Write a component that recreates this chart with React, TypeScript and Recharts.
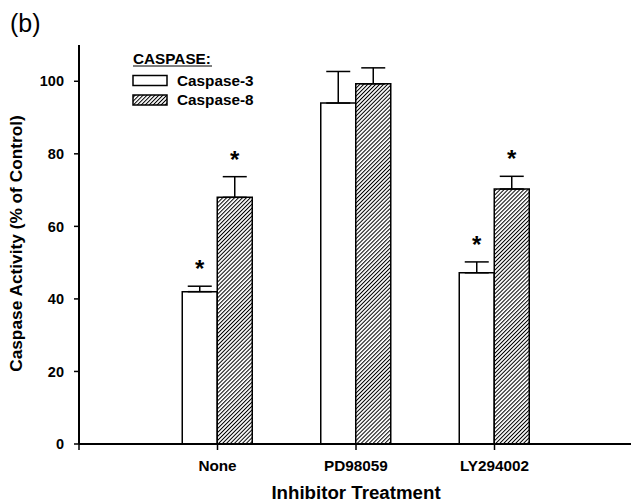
import { Bar, BarChart, ErrorBar, LabelList, Legend, XAxis, YAxis } from 'recharts'

const categories = ['None', 'PD98059', 'LY294002']
const caspase3 = [42, 94, 47.2]
const caspase3Err = [1.5, 8.7, 3]
const caspase3Sig = [true, false, true]
const caspase8 = [68, 99.3, 70.3]
const caspase8Err = [5.7, 4.4, 3.5]
const caspase8Sig = [true, false, true]
const yTicks = [0, 20, 40, 60, 80, 100]
const xTicks = [0, 1, 2, 3]

const FONT = "Arial, 'Liberation Sans', sans-serif"

const rows = categories.map((name, i) => ({
  x: i + 1,
  name,
  c3: caspase3[i],
  c3err: [0, caspase3Err[i]],
  c8: caspase8[i],
  c8err: [0, caspase8Err[i]],
}))

const starLabel = (errs: number[], sig: boolean[]) => (props: any) => {
  const vb = props.viewBox ?? props
  const { index, value } = props
  if (!sig[index]) return null
  const h = Math.abs(vb.height)
  const top = Math.min(vb.y, vb.y + vb.height)
  const pxPer = h / Number(value)
  const cy = top - errs[index] * pxPer - 22
  return (
    <text
      x={vb.x + vb.width / 2}
      y={cy + 13}
      textAnchor="middle"
      fontSize={24}
      fontWeight="bold"
      fontFamily={FONT}
      fill="#000"
    >
      *
    </text>
  )
}

function LegendBox() {
  return (
    <svg width={300} height={120} style={{ display: 'block' }}>
      <text x={10} y={32} fontSize={25} fontFamily={FONT} fill="#000">
        (b)
      </text>
      <text x={133} y={64} fontSize={15.3} fontWeight="bold" fontFamily={FONT} fill="#000">
        CASPASE:
      </text>
      <line x1={133} x2={212} y1={66} y2={66} stroke="#000" strokeWidth={1.2} />
      <rect x={133} y={75.5} width={34} height={10} fill="#fff" stroke="#000" strokeWidth={1.5} />
      <text x={177} y={85.5} fontSize={15.3} fontWeight="bold" fontFamily={FONT} fill="#000">
        Caspase-3
      </text>
      <rect x={133} y={95} width={34} height={10} fill="url(#hatch)" stroke="#000" strokeWidth={1.5} />
      <text x={177} y={105} fontSize={15.3} fontWeight="bold" fontFamily={FONT} fill="#000">
        Caspase-8
      </text>
    </svg>
  )
}

export default function App() {
  return (
    <div
      style={{
        position: 'fixed',
        left: 0,
        top: 0,
        width: 631,
        height: 502,
        overflow: 'hidden',
        background: '#fff',
        fontFamily: FONT,
      }}
    >
      <svg width={0} height={0} style={{ position: 'absolute' }}>
        <defs>
          <pattern id="hatch" width={2.8} height={2.8} patternUnits="userSpaceOnUse" patternTransform="rotate(45)">
            <rect width={2.8} height={2.8} fill="#fff" />
            <line x1={0.5} y1={0} x2={0.5} y2={2.8} stroke="#000" strokeWidth={1} />
          </pattern>
        </defs>
      </svg>
      <BarChart
        width={640}
        height={502}
        data={rows}
        margin={{ top: 45, right: 7, bottom: 0, left: 0 }}
        barGap={0}
      >
        <XAxis
          dataKey="x"
          type="number"
          domain={[0, 4]}
          ticks={xTicks}
          allowDataOverflow
          tickFormatter={(v) => categories[v - 1] ?? ''}
          height={58}
          tickSize={6}
          tickMargin={10}
          axisLine={{ stroke: '#000', strokeWidth: 2 }}
          tickLine={{ stroke: '#000', strokeWidth: 1.5 }}
          tick={{ fill: '#000', fontSize: 15.3, fontWeight: 'bold', fontFamily: FONT }}
          label={{
            value: 'Inhibitor Treatment',
            position: 'insideBottom',
            offset: 3,
            fill: '#000',
            fontSize: 18.7,
            fontWeight: 'bold',
            fontFamily: FONT,
          }}
        />
        <YAxis
          domain={[0, 110]}
          ticks={yTicks}
          interval={0}
          width={79}
          tickSize={5}
          tickMargin={10}
          axisLine={{ stroke: '#000', strokeWidth: 2 }}
          tickLine={{ stroke: '#000', strokeWidth: 1.5 }}
          tick={{ fill: '#000', fontSize: 14.5, fontWeight: 'bold', fontFamily: FONT }}
          label={{
            content: ({ viewBox }: any) => {
              const cy = viewBox.y + viewBox.height / 2 - 1
              return (
                <text
                  x={22}
                  y={cy}
                  transform={`rotate(-90 22 ${cy})`}
                  textAnchor="middle"
                  fontSize={17.3}
                  fontWeight="bold"
                  fontFamily={FONT}
                  fill="#000"
                >
                  Caspase Activity (% of Control)
                </text>
              )
            },
          }}
        />
        <Legend
          layout="horizontal"
          verticalAlign="middle"
          align="center"
          wrapperStyle={{ left: 0, top: 0, width: 300, height: 120 }}
          content={() => <LegendBox />}
        />
        <Bar dataKey="c3" name="Caspase-3" fill="#fff" stroke="#000" strokeWidth={1.5} barSize={35} isAnimationActive={false}>
          <ErrorBar dataKey="c3err" direction="y" width={12} stroke="#000" strokeWidth={1.5} />
          <LabelList dataKey="c3" content={starLabel(caspase3Err, caspase3Sig)} />
        </Bar>
        <Bar dataKey="c8" name="Caspase-8" fill="url(#hatch)" stroke="#000" strokeWidth={1.5} barSize={35} isAnimationActive={false}>
          <ErrorBar dataKey="c8err" direction="y" width={12} stroke="#000" strokeWidth={1.5} />
          <LabelList dataKey="c8" content={starLabel(caspase8Err, caspase8Sig)} />
        </Bar>
      </BarChart>
    </div>
  )
}
